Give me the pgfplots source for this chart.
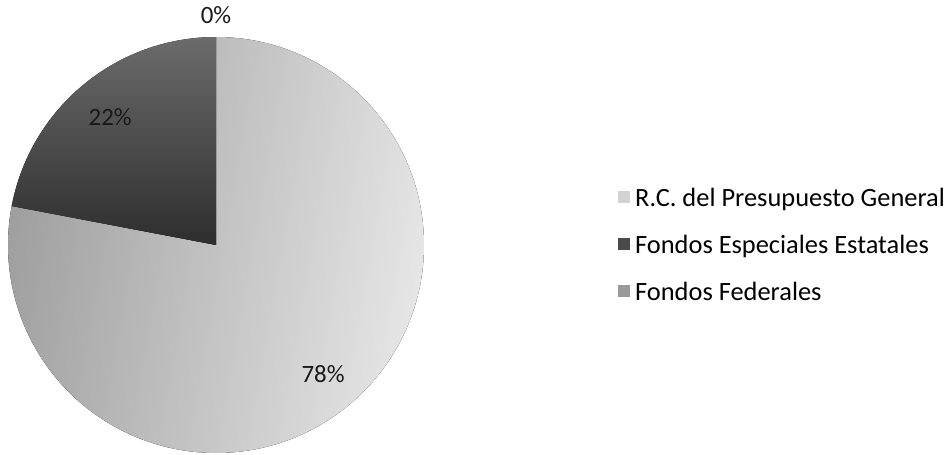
\documentclass[border=0pt]{standalone}
\usepackage{fontspec}
\setmainfont{Carlito}
\usepackage{pgfplots}
\pgfplotsset{compat=1.18}
\usepackage{pgfplotstable}
\usetikzlibrary{calc}

% shares in percent, in drawing order (clockwise from 12 o'clock)
\pgfplotstableread{
share
78
22
0
}\piedata

\definecolor{rcgray}{HTML}{D2D2D2}
\definecolor{feegray}{HTML}{4A4A4A}
\definecolor{ffgray}{HTML}{9A9A9A}

\begin{document}
\begin{tikzpicture}
\pgfplotstablegetelem{0}{share}\of\piedata \let\sA\pgfplotsretval
\pgfplotstablegetelem{1}{share}\of\piedata \let\sB\pgfplotsretval
\pgfplotstablegetelem{2}{share}\of\piedata \let\sC\pgfplotsretval
\pgfmathsetmacro\aA{90-3.6*\sA}
\pgfmathsetmacro\aB{\aA-3.6*\sB}
\pgfmathsetmacro\mA{90-1.8*\sA}
\pgfmathsetmacro\mB{\aA-1.8*\sB}
\pgfmathsetmacro\mC{\aB-1.8*\sC}
\path[use as bounding box] (0,0) rectangle (951bp,455bp);
\begin{axis}[
    at={(0,0)}, anchor=origin,
    x=1bp, y=1bp,
    xmin=0, xmax=951, ymin=0, ymax=455,
    hide axis, clip=false,
    legend cell align=left,
    legend image code/.code={\fill[#1] (0bp,-5bp) rectangle (12bp,7bp); \path (0,0) -- (15bp,0);},
    legend style={draw=none, fill=none, at={(axis cs:615,210)}, anchor=west,
        font=\fontsize{26.5}{31}\selectfont, row sep=23bp},
]
\addlegendimage{draw=none, fill=rcgray}
\addlegendentry{R.C. del Presupuesto General}
\addlegendimage{draw=none, fill=feegray}
\addlegendentry{Fondos Especiales Estatales}
\addlegendimage{draw=none, fill=ffgray}
\addlegendentry{Fondos Federales}

% slices
\fill[left color=black!38, right color=black!10, shading angle=80]
    (axis cs:216,210) -- ++(90:208bp) arc[start angle=90, end angle=\aA, radius=208bp] -- cycle;
\fill[top color=black!58, bottom color=black!82]
    (axis cs:216,210) -- ++(\aA:208bp) arc[start angle=\aA, end angle=\aB, radius=208bp] -- cycle;

% percentage labels
\node[font=\fontsize{25}{30}\selectfont, text=black!90] at ($(axis cs:216,210)+(\mA:168bp)$) {\sA\%};
\node[font=\fontsize{25}{30}\selectfont, text=black!90] at ($(axis cs:216,210)+(\mB:166bp)$) {\sB\%};
\node[font=\fontsize{25}{30}\selectfont, text=black!90] at ($(axis cs:216,210)+(\mC:230bp)$) {\sC\%};
\end{axis}
\end{tikzpicture}
\end{document}
